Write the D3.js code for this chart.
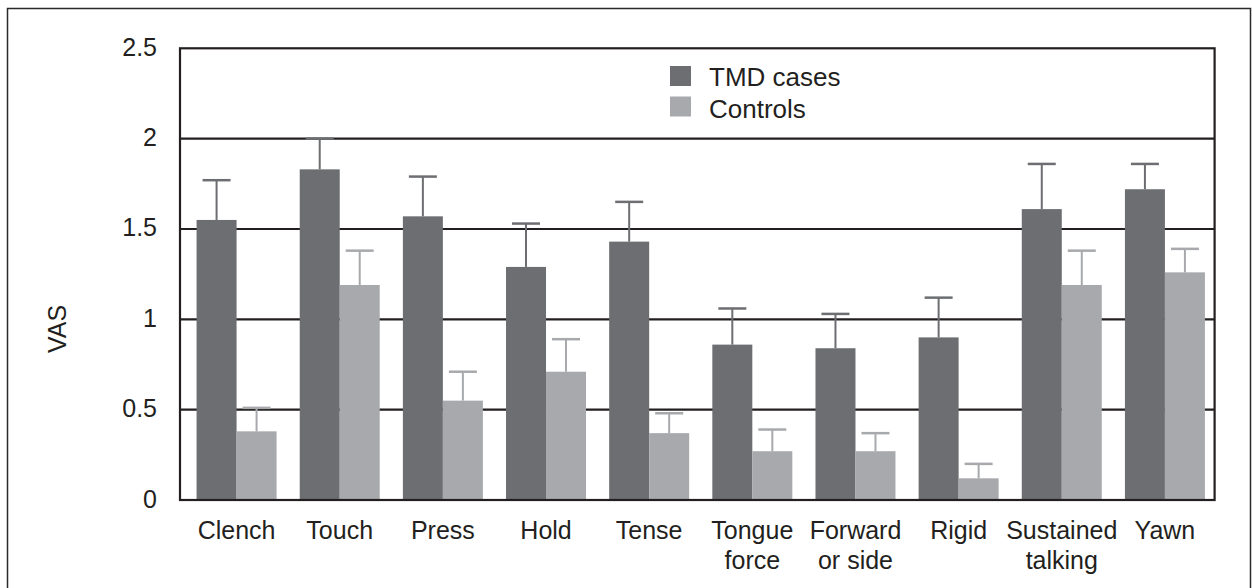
<!DOCTYPE html>
<html>
<head>
<meta charset="utf-8">
<script src="https://cdn.jsdelivr.net/npm/d3@7"></script>
<style>
  html, body { margin: 0; padding: 0; background: #ffffff; }
  svg { display: block; font-family: "Liberation Sans", Arial, Helvetica, sans-serif; }
</style>
</head>
<body>
<svg id="chart" width="1252" height="588"></svg>
<script>
// ---- data ----
const categories = ["Clench", "Touch", "Press", "Hold", "Tense", "Tongue\nforce", "Forward\nor side", "Rigid", "Sustained\ntalking", "Yawn"];
const seriesNames = ["TMD cases", "Controls"];
const tmdValues = [1.55, 1.83, 1.57, 1.29, 1.43, 0.86, 0.84, 0.90, 1.61, 1.72];
const tmdErrors = [0.22, 0.17, 0.22, 0.24, 0.22, 0.20, 0.19, 0.22, 0.25, 0.14];
const controlValues = [0.38, 1.19, 0.55, 0.71, 0.37, 0.27, 0.27, 0.12, 1.19, 1.26];
const controlErrors = [0.13, 0.19, 0.16, 0.18, 0.11, 0.12, 0.10, 0.08, 0.19, 0.13];
const yTicks = [0, 0.5, 1, 1.5, 2, 2.5];
const yTickLabels = ["0", "0.5", "1", "1.5", "2", "2.5"];
const yTitle = "VAS";

// ---- layout ----
const plot = { left: 180, top: 48.3, right: 1214.6, bottom: 500 };
const darkFill = "#6d6e71";
const lightFill = "#a7a9ac";
const lineColor = "#231f20";
const barW = 40;
const capW = 28;

const svg = d3.select("#chart");

// outer frame (bottom edge lies beyond the picture)
svg.append("rect")
  .attr("x", 7.5).attr("y", 8.5)
  .attr("width", 1243).attr("height", 650)
  .attr("fill", "none").attr("stroke", "#2a2a2a").attr("stroke-width", 1.5);

const x = d3.scaleBand().domain(categories).range([185, 1216.5]).padding(0);
const y = d3.scaleLinear().domain([0, 2.5]).range([plot.bottom, plot.top]);

// grid lines
svg.append("g").selectAll("line")
  .data(yTicks.filter(t => t > 0 && t < 2.5))
  .join("line")
  .attr("x1", plot.left).attr("x2", plot.right)
  .attr("y1", d => y(d)).attr("y2", d => y(d))
  .attr("stroke", lineColor).attr("stroke-width", 2.2);

const series = [
  { name: seriesNames[0], values: tmdValues, errors: tmdErrors, fill: darkFill, err: "#6d6e71", offset: -barW },
  { name: seriesNames[1], values: controlValues, errors: controlErrors, fill: lightFill, err: "#a7a9ac", offset: 0 }
];

series.forEach(s => {
  const g = svg.append("g");
  const rows = categories.map((c, i) => ({ c, v: s.values[i], e: s.errors[i] }));
  const cx = d => x(d.c) + x.bandwidth() / 2 + s.offset + barW / 2;
  // error stems
  g.selectAll("line.stem").data(rows).join("line").attr("class", "stem")
    .attr("x1", cx).attr("x2", cx)
    .attr("y1", d => y(d.v)).attr("y2", d => y(d.v + d.e))
    .attr("stroke", s.err).attr("stroke-width", 2);
  // caps
  g.selectAll("line.cap").data(rows).join("line").attr("class", "cap")
    .attr("x1", d => cx(d) - capW / 2).attr("x2", d => cx(d) + capW / 2)
    .attr("y1", d => y(d.v + d.e)).attr("y2", d => y(d.v + d.e))
    .attr("stroke", s.err).attr("stroke-width", 2.5);
  // bars
  g.selectAll("rect").data(rows).join("rect")
    .attr("x", d => x(d.c) + x.bandwidth() / 2 + s.offset)
    .attr("width", barW)
    .attr("y", d => y(d.v))
    .attr("height", d => y(0) - y(d.v))
    .attr("fill", s.fill);
});

// plot border
svg.append("rect")
  .attr("x", plot.left).attr("y", plot.top)
  .attr("width", plot.right - plot.left).attr("height", plot.bottom - plot.top)
  .attr("fill", "none").attr("stroke", lineColor).attr("stroke-width", 2.2);

// y axis labels
const yAxis = d3.axisLeft(y).tickValues(yTicks)
  .tickFormat((d, i) => yTickLabels[i]).tickSize(0).tickPadding(23);
const gy = svg.append("g").attr("transform", `translate(${plot.left},0)`).call(yAxis);
gy.select(".domain").remove();
gy.selectAll("text")
  .attr("font-size", 25).attr("font-family", "Liberation Sans, Arial, sans-serif")
  .attr("fill", "#231f20").attr("dy", "0.28em");

// x axis labels (multi-line)
const xAxis = d3.axisBottom(x).tickSize(0).tickPadding(0);
const gx = svg.append("g").attr("transform", `translate(0,${plot.bottom})`).call(xAxis);
gx.select(".domain").remove();
gx.selectAll("text")
  .attr("font-size", 25).attr("font-family", "Liberation Sans, Arial, sans-serif")
  .attr("fill", "#231f20").attr("y", 0).attr("dy", null)
  .each(function(d) {
    const t = d3.select(this);
    const lines = d.split("\n");
    t.text(null);
    lines.forEach((ln, i) => {
      t.append("tspan").attr("x", 0).attr("y", 39 + i * 30).text(ln);
    });
  });

// y title
svg.append("text")
  .attr("transform", "translate(66,329) rotate(-90)")
  .attr("text-anchor", "middle")
  .attr("font-size", 25).attr("fill", "#231f20")
  .text(yTitle);

// legend
const legend = svg.append("g").attr("transform", "translate(670,66)");
series.forEach((s, i) => {
  legend.append("rect").attr("x", 0).attr("y", i * 30.5).attr("width", 21).attr("height", 20).attr("fill", s.fill);
  legend.append("text").attr("x", 39).attr("y", i * 31.5 + 20)
    .attr("font-size", 26).attr("fill", "#231f20").text(s.name);
});
</script>
</body>
</html>
